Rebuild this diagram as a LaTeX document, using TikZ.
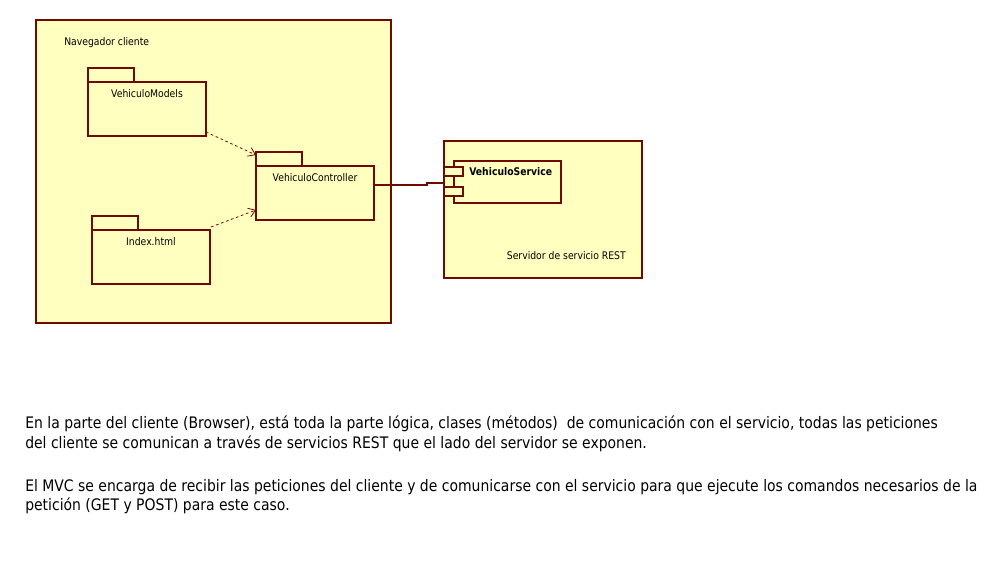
\documentclass[tikz,border=0pt]{standalone}
\usepackage{fontspec}
\setmainfont{DejaVu Sans}[FakeStretch=0.88]
\definecolor{umlred}{RGB}{110,10,0}
\definecolor{umlfill}{RGB}{255,255,192}
\usetikzlibrary{arrows.meta,positioning,calc}

\begin{document}
\begin{tikzpicture}[
      x=0.75pt, y=-0.75pt,
      box/.style={draw=umlred, fill=umlfill, line width=0.8pt},
      lbl/.style={inner sep=0pt, font=\fontsize{7.9}{9}\selectfont},
      dep/.style={-{Straight Barb[length=5pt,width=7pt]}, dash pattern=on 2pt off 2pt, umlred, line width=0.6pt},
      wire/.style={umlred, line width=0.9pt},
      para/.style={inner sep=0pt, anchor=north west, align=left,
                   font=\fontsize{11.9}{14.6}\selectfont}
    ]
    \useasboundingbox[fill=white] (0,0) rectangle (999,564);

    % client side
    \draw[box] (36,20) rectangle (391,323);
    \node[lbl, anchor=west] (nav) at (64,43) {Navegador cliente};

    % packages
    \draw[box] (88,68) rectangle (134,82);
    \draw[box] (88,82) rectangle (206,136);
    \node[lbl] (vm) at (147,94) {VehiculoModels};
    \coordinate (vmout) at (206,132);

    \draw[box] (256,152) rectangle (302,166);
    \draw[box] (256,166) rectangle (374,220);
    \node[lbl] (vc) at (315,178) {VehiculoController};
    \coordinate (vcin1) at (256,155);
    \coordinate (vcin2) at (256,210);
    \coordinate (vcout) at (374,185);

    \draw[box] (92,216) rectangle (138,230);
    \draw[box] (92,230) rectangle (210,284);
    \node[lbl] (ix) at (151,242) {Index.html};
    \coordinate (ixout) at (211,227);

    % server side
    \draw[box] (444,141) rectangle (642,278);
    \node[lbl, anchor=east] (srv) at (626,256) {Servidor de servicio REST};
    \draw[box] (454,161) rectangle (561,203);
    \draw[box] (444,167) rectangle (463,176);
    \draw[box] (444,187) rectangle (463,196);
    \node[lbl, anchor=west, font=\fontsize{7.9}{9}\selectfont\bfseries] (vs) at (469,172) {VehiculoService};
    \coordinate (vsin) at (444,183);

    % connectors
    \draw[dep] (vmout) -- (vcin1);
    \draw[dep] (ixout) -- (vcin2);
    \draw[wire] (vcout) -- ($(vcout)+(53,0)$) |- (vsin);

    % notes
    \node[para] (t1) at (25,416) {En la parte del cliente (Browser), está toda la parte lógica, clases (métodos)\ \ de comunicación con el servicio, todas las peticiones\\
      del cliente se comunican a través de servicios REST que el lado del servidor se exponen.};
    \node[para] (t2) at (25,479) {El MVC se encarga de recibir las peticiones del cliente y de comunicarse con el servicio para que ejecute los comandos necesarios de la\\
      petición (GET y POST) para este caso.};
  \end{tikzpicture}
\end{document}
